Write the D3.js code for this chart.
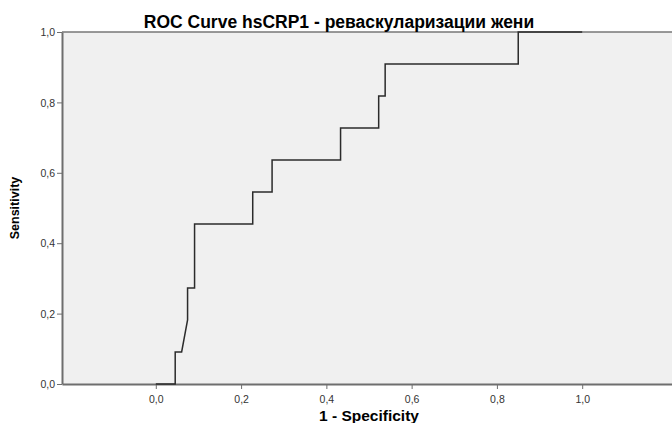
<!DOCTYPE html>
<html>
<head>
<meta charset="utf-8">
<script src="https://cdn.jsdelivr.net/npm/d3@7"></script>
<style>
  body { margin: 0; background: #fff; }
  svg text { font-family: "Liberation Sans", Arial, sans-serif; }
</style>
</head>
<body>
<div id="chart"></div>
<script>
// ROC curve points (1 - specificity, sensitivity)
var fpr  = [0, 0.0455, 0.0455, 0.0606, 0.0745, 0.0745, 0.0909, 0.0909, 0.2273, 0.2273, 0.2727, 0.2727, 0.4333, 0.4333, 0.5227, 0.5227, 0.5379, 0.5379, 0.8500, 0.8500, 1];
var sens = [0, 0,      0.0909, 0.0909, 0.1818, 0.2727, 0.2727, 0.4545, 0.4545, 0.5455, 0.5455, 0.6364, 0.6364, 0.7273, 0.7273, 0.8182, 0.8182, 0.9091, 0.9091, 1,      1];
var xTicks = [0, 0.2, 0.4, 0.6, 0.8, 1.0];
var yTicks = [0, 0.2, 0.4, 0.6, 0.8, 1.0];
var title = "ROC Curve hsCRP1 - реваскуларизации жени";
var xLabel = "1 - Specificity";
var yLabel = "Sensitivity";

(function(){
  var w = 672, h = 423;
  var pLeft = 62, pRight = 676, pTop = 32, pBottom = 384;

  var fmt = function(d){ return d3.format(".1f")(d).replace(".", ","); };

  var x = d3.scaleLinear().domain([-0.22, 1.22]).range([pLeft, pRight]);
  var y = d3.scaleLinear().domain([0, 1]).range([pBottom, pTop]);

  var svg = d3.select("#chart").append("svg")
      .attr("width", w)
      .attr("height", h);

  // plot background
  svg.append("rect")
      .attr("x", pLeft).attr("y", pTop)
      .attr("width", pRight - pLeft).attr("height", pBottom - pTop)
      .attr("fill", "#f0f0f0");

  // top border
  svg.append("line")
      .attr("x1", pLeft).attr("x2", pRight)
      .attr("y1", pTop).attr("y2", pTop)
      .attr("stroke", "#777").attr("stroke-width", 1.5);

  // axes
  var xAxis = svg.append("g")
      .attr("transform", "translate(0," + pBottom + ")")
      .call(d3.axisBottom(x).tickValues(xTicks).tickFormat(fmt).tickSize(5).tickSizeOuter(0));
  var yAxis = svg.append("g")
      .attr("transform", "translate(" + pLeft + ",0)")
      .call(d3.axisLeft(y).tickValues(yTicks).tickFormat(fmt).tickSize(5).tickSizeOuter(0));

  [xAxis, yAxis].forEach(function(a){
    a.select(".domain").attr("stroke", "#6e6e6e").attr("stroke-width", 2);
    a.selectAll(".tick line").attr("stroke", "#6e6e6e").attr("stroke-width", 1);
    a.selectAll(".tick text").attr("fill", "#333").style("font-size", "10.5px");
  });
  xAxis.selectAll(".tick text").attr("dy", "1.05em");
  yAxis.selectAll(".tick text").attr("dy", "0.35em").attr("x", -7);

  // curve
  var line = d3.line()
      .x(function(d){ return x(d[0]); })
      .y(function(d){ return y(d[1]); });

  svg.append("path")
      .datum(d3.zip(fpr, sens))
      .attr("d", line)
      .attr("fill", "none")
      .attr("stroke", "#2b2b2b")
      .attr("stroke-width", 1.5);

  // texts
  svg.append("text")
      .attr("x", 339).attr("y", 28)
      .attr("text-anchor", "middle")
      .style("font-size", "17.5px").style("font-weight", "bold")
      .attr("fill", "#000")
      .text(title);

  svg.append("text")
      .attr("x", 369).attr("y", 421)
      .attr("text-anchor", "middle")
      .style("font-size", "15.5px").style("font-weight", "bold")
      .attr("fill", "#000")
      .text(xLabel);

  svg.append("text")
      .attr("transform", "translate(19," + ((pTop + pBottom) / 2) + ") rotate(-90)")
      .attr("text-anchor", "middle")
      .style("font-size", "12.5px").style("font-weight", "bold")
      .attr("fill", "#000")
      .text(yLabel);
})();
</script>
</body>
</html>
